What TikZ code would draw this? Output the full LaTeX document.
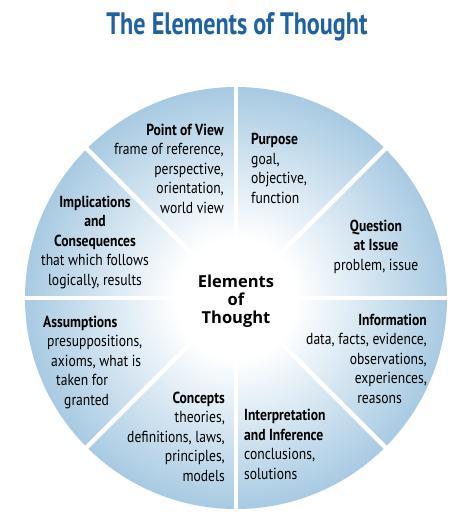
\documentclass[tikz,border=0pt]{standalone}
\usepackage{fontspec}
\setmainfont{PT Sans}
\newfontfamily\condfont[FakeStretch=0.85]{PT Sans}
\newfontfamily\titlefont[FakeStretch=0.78]{PT Sans}
\newfontfamily\hubfont{Open Sans}
\usetikzlibrary{positioning}
\definecolor{edgeblue}{HTML}{A8CAE2}
\definecolor{titleblue}{HTML}{1F62A3}
\pgfdeclareradialshading{wheelshade}{\pgfpoint{0bp}{0bp}}{%
  color(0bp)=(white); color(7bp)=(white); color(25bp)=(edgeblue); color(50bp)=(edgeblue)}

\begin{document}
\begin{tikzpicture}[
  x=1pt, y=-1pt,
  every node/.style={inner sep=0pt, text=black},
  element/.style={font=\condfont\fontsize{16}{19.5}\selectfont},
  centre/.style={font=\hubfont\bfseries\fontsize{16.5}{18}\selectfont, align=center},
  gap/.style={white, line width=4.5pt},
]
  \useasboundingbox (0,0) rectangle (474,523);

  % Title
  \node[anchor=base, font=\titlefont\bfseries\fontsize{31}{31}\selectfont, text=titleblue]
    (title) at (237,34) {The Elements of Thought};

  % Wheel
  \coordinate (o) at (236,298);
  \shade[shading=wheelshade] (o) circle[radius=211];
  \foreach \a in {0,45,...,315}
    \draw[gap] (o) -- ++(\a:213);

  % Centre (anchors sit on the last baseline)
  \node[centre, anchor=base] (thought) at (236,323) {Elements\\of\\Thought};

  % The eight elements
  \node[element, anchor=base east, align=right] (view) at (224,213)
    {\textbf{Point of View}\\frame of reference,\\perspective,\\orientation,\\world view};
  \node[element, anchor=base west, align=left] (purpose) at (251,203)
    {\textbf{Purpose}\\goal,\\objective,\\function};
  \node[element, anchor=base, align=center] (question) at (376,270)
    {\textbf{Question}\\\textbf{at Issue}\\problem, issue};
  \node[element, anchor=base, align=center] (implications) at (95,285)
    {\textbf{Implications}\\\textbf{and}\\\textbf{Consequences}\\that which follows\\logically, results};
  \node[element, anchor=base west, align=left] (assumptions) at (43,405)
    {\textbf{Assumptions}\\\hspace*{4pt}presuppositions,\\\hspace*{8pt}axioms, what is\\\hspace*{13pt}taken for\\\hspace*{21pt}granted};
  \node[element, anchor=base east, align=right] (concepts) at (225,481)
    {\textbf{Concepts}\\theories,\\definitions, laws,\\principles,\\models};
  \node[element, anchor=base east, align=right] (information) at (427,403)
    {\textbf{Information}\\data, facts, evidence,\hspace*{6pt}\\observations,\hspace*{13pt}\\experiences,\hspace*{18pt}\\reasons\hspace*{25pt}};
  \node[element, anchor=base west, align=left] (inference) at (244,479)
    {\textbf{Interpretation}\\\textbf{and Inference}\\conclusions,\\solutions};
\end{tikzpicture}
\end{document}
